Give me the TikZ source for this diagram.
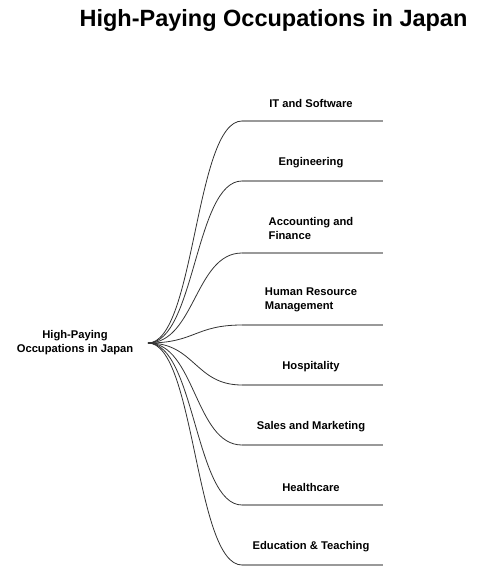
\documentclass[tikz,border=0pt]{standalone}
\usepackage{fontspec}
\setmainfont{Liberation Sans}
\begin{document}
\begin{tikzpicture}[x=1pt,y=-1pt,
  leaf/.style={font=\fontsize{11.2}{14}\selectfont\bfseries, align=left, anchor=south, inner sep=0pt},
  branch/.style={draw=black!80, line width=0.8pt},
  uline/.style={draw=black!40, line width=1.5pt},
  title/.style={font=\fontsize{23.5}{28}\selectfont\bfseries}]
\useasboundingbox (0,0) rectangle (496,573);
\node[title] (t) at (273.5,20) {High-Paying Occupations in Japan};
\node[font=\fontsize{11.2}{14}\selectfont\bfseries, align=center] (root) at (75,343) {High-Paying\\Occupations in Japan};
\coordinate (r) at (148,343);
\foreach \name/\y/\lab in {
  a/121/{IT and Software},
  b/181/{Engineering},
  c/253/{Accounting and\\Finance},
  d/325/{Human Resource\\Management},
  e/385/{Hospitality},
  f/445/{Sales and Marketing},
  g/505/{Healthcare},
  h/565/{Education \& Teaching}}{
  \coordinate (\name L) at (242,\y);
  \coordinate (\name R) at (383,\y);
  \draw[branch] (r) .. controls (195,343) and (195,\y) .. (\name L);
  \draw[uline] (\name L) -- (\name R);
  \node[leaf] (\name) at (311,\y-13) {\lab};
}
\end{tikzpicture}
\end{document}
